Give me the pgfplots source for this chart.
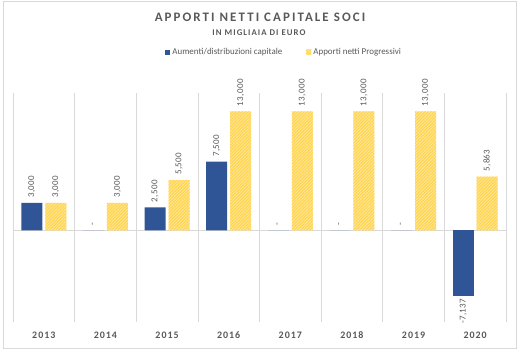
\documentclass[border=0pt]{standalone}
\usepackage{fontspec}
\setmainfont{Carlito}
\usepackage{pgfplots}
\pgfplotsset{compat=1.18}
\usepackage{pgfplotstable}
\usetikzlibrary{patterns,patterns.meta}
\definecolor{cblue}{HTML}{2F5597}
\definecolor{cyel}{HTML}{FFD54F}
\definecolor{cyellight}{HTML}{FFE9A3}
\definecolor{txt}{HTML}{595959}
\definecolor{grd}{HTML}{D9D9D9}

\pgfplotstableread{
x y label
0 3000 {3,000}
1 0 {-}
2 2500 {2,500}
3 7500 {7,500}
4 0 {-}
5 0 {-}
6 0 {-}
}\bluepos

\pgfplotstableread{
x y label
7 -7137 {-7,137}
}\blueneg

\pgfplotstableread{
x y label
0 3000 {3,000}
1 3000 {3,000}
2 5500 {5,500}
3 13000 {13,000}
4 13000 {13,000}
5 13000 {13,000}
6 13000 {13,000}
7 5863 {5,863}
}\yellowseries

\begin{document}
\begin{tikzpicture}
\path[use as bounding box] (0bp,0bp) rectangle (520bp,354bp);
\draw[grd] (3.5bp,5.5bp) rectangle (516.5bp,353bp);
\node[font=\fontsize{13}{15}\selectfont\bfseries\addfontfeature{LetterSpace=16}, text=txt] at (260bp,337bp) {APPORTI NETTI CAPITALE SOCI};
\node[font=\fontsize{8.8}{10}\selectfont\bfseries\addfontfeature{LetterSpace=12}, text=txt] at (259bp,321bp) {IN MIGLIAIA DI EURO};
\begin{axis}[
  at={(13bp,32bp)}, anchor=south west,
  scale only axis, width=493bp, height=229bp,
  xmin=-0.5, xmax=7.5, ymin=-10000, ymax=15000,
  axis line style={draw=none},
  ytick=\empty,
  xtick={0,1,2,3,4,5,6,7},
  xticklabels={2013,2014,2015,2016,2017,2018,2019,2020},
  major tick length=0pt, minor tick length=0pt,
  minor xtick={-0.5,0.5,1.5,2.5,3.5,4.5,5.5,6.5,7.5},
  xminorgrids, minor grid style={grd, line width=0.6pt},
  xticklabel style={font=\fontsize{10}{12}\selectfont\bfseries\addfontfeature{LetterSpace=10}, text=txt, yshift=-6bp},
  ybar, bar width=21bp,
  clip=false,
  point meta=explicit symbolic,
  nodes near coords,
  every node near coord/.append style={font=\fontsize{9}{10}\selectfont\addfontfeature{LetterSpace=4}, text=txt, rotate=90, anchor=west, inner xsep=5bp},
  legend columns=2,
  legend style={at={(0.55,1.179)}, anchor=center, draw=none, fill=none,
    font=\fontsize{9}{10}\selectfont, text=txt,
    /tikz/every even column/.append style={column sep=22bp}},
  every axis plot post/.append style={legend image code/.code={\fill[##1] (0bp,-2.5bp) rectangle (5bp,2.5bp);}},
]
\draw[grd, line width=0.6pt] (axis cs:-0.5,0) -- (axis cs:7.5,0);
\addplot[fill=cblue, draw=none, bar shift=-12bp] table[x=x, y=y, meta=label] {\bluepos};
\addlegendentry{Aumenti/distribuzioni capitale}
\addplot[fill=cyellight, draw=none, bar shift=12bp, postaction={pattern={Lines[angle=45,distance=2.2pt,line width=1.3pt]}, pattern color=cyel}] table[x=x, y=y, meta=label] {\yellowseries};
\addlegendentry{Apporti netti Progressivi}
\addplot[fill=cblue, draw=none, bar shift=-12bp, forget plot, every node near coord/.append style={anchor=east, inner xsep=3bp}] table[x=x, y=y, meta=label] {\blueneg};
\end{axis}
\end{tikzpicture}
\end{document}
